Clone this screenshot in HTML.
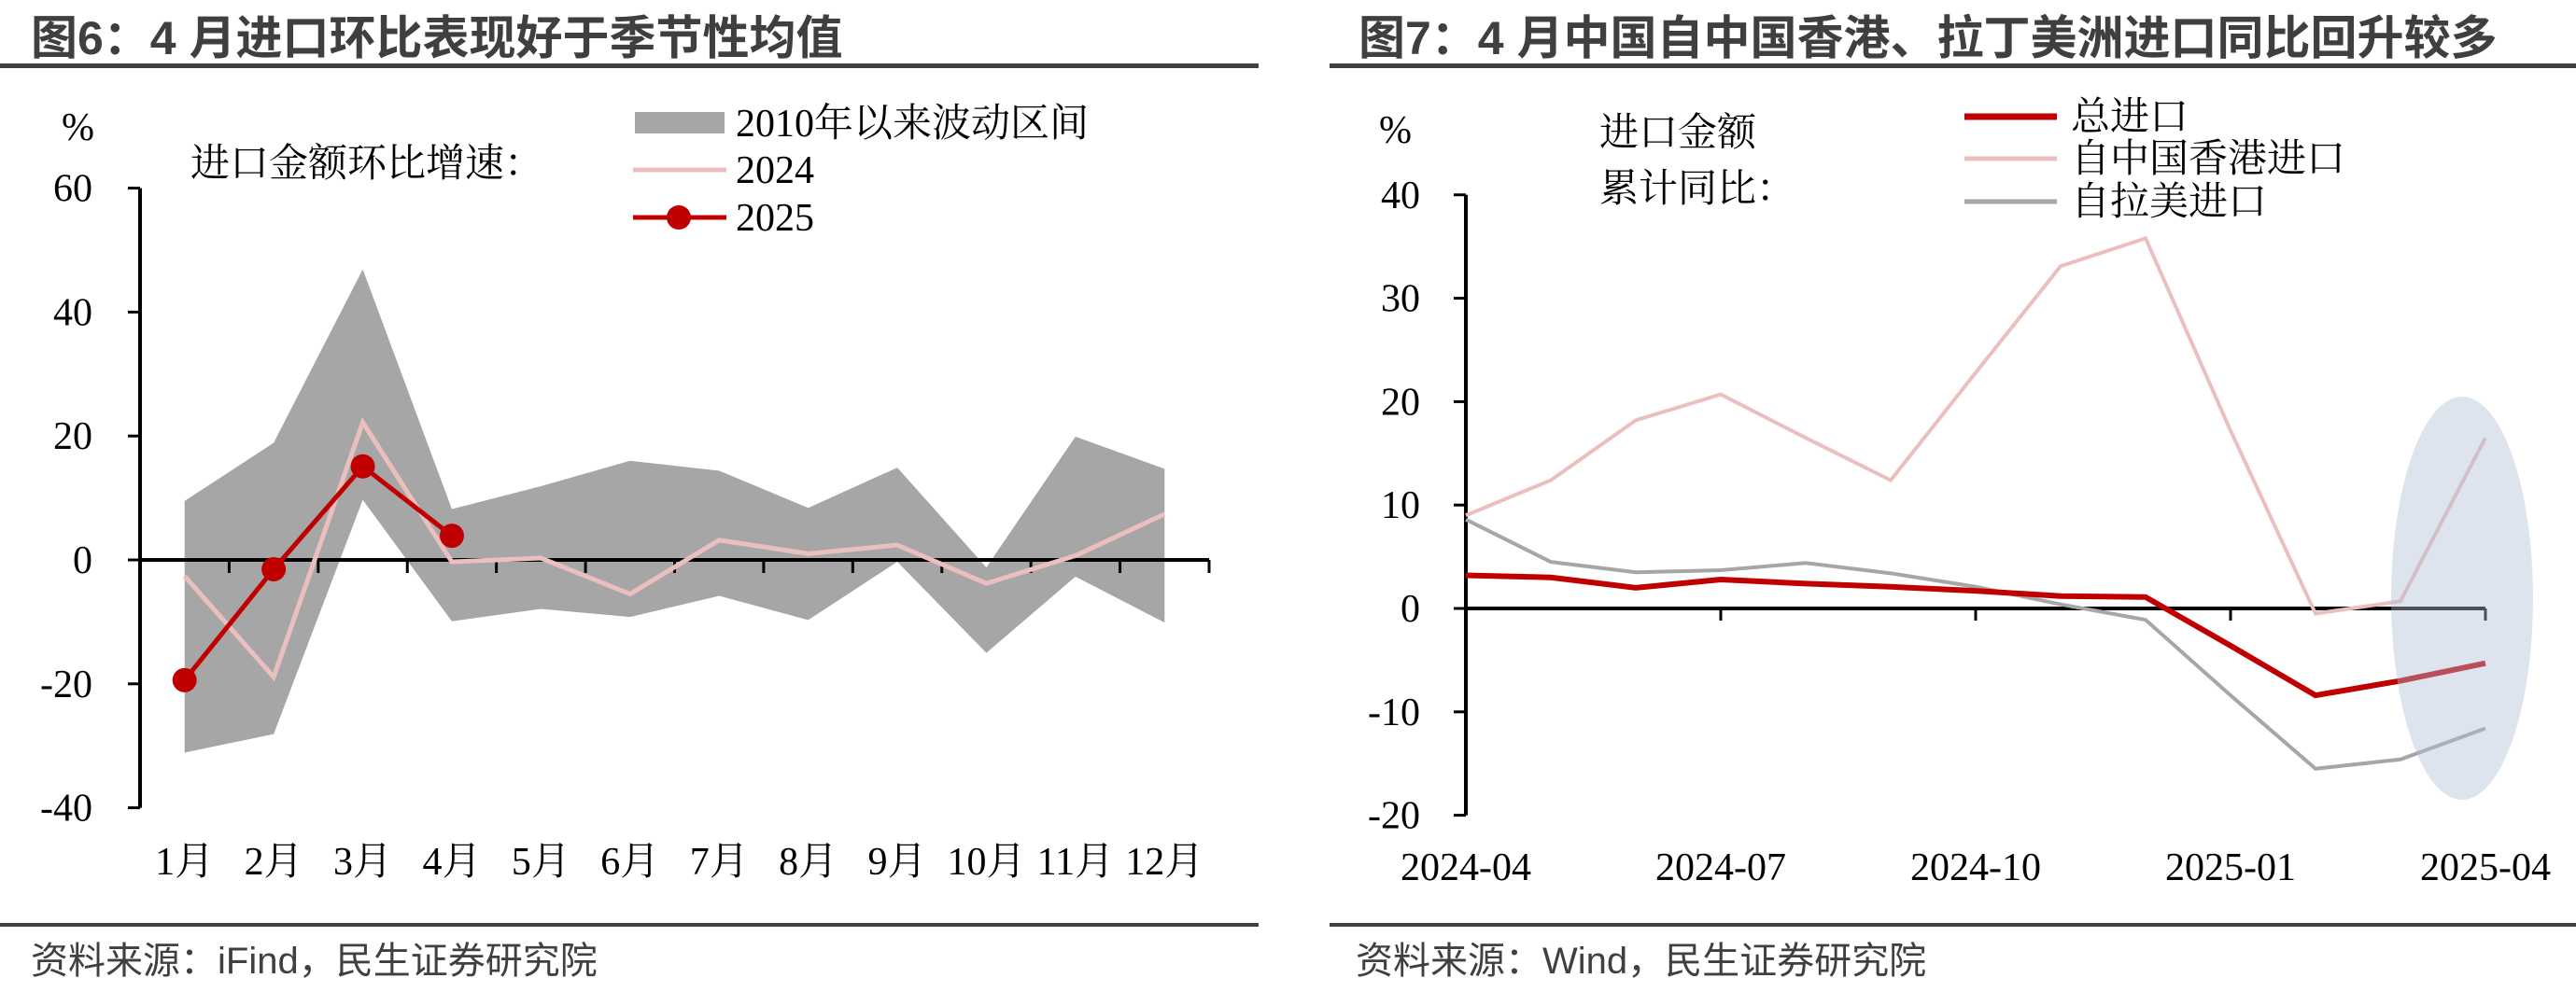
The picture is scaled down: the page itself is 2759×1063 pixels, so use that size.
<!DOCTYPE html>
<html><head><meta charset="utf-8"><style>
html,body{margin:0;padding:0;background:#fff;}
svg{display:block;}
.t{font-family:"Liberation Sans","Noto Sans CJK SC",sans-serif;font-weight:bold;fill:#3f3f3f;font-size:50px;}
.f{font-family:"Liberation Sans","Noto Sans CJK SC",sans-serif;fill:#404040;font-size:40px;}
.n{font-family:"Liberation Serif","Noto Serif CJK SC",serif;fill:#000;font-size:42px;}
</style></head><body>
<svg id="svg" width="2759" height="1063" viewBox="0 0 2759 1063" xmlns="http://www.w3.org/2000/svg">
<text class="t" x="33" y="58">图6：4 月进口环比表现好于季节性均值</text>
<rect x="0" y="68" width="1348" height="5" fill="#404040"/>
<rect x="0" y="989" width="1348" height="4" fill="#404040"/>
<text class="f" x="33" y="1043">资料来源：iFind，民生证券研究院</text>
<text class="t" x="1455" y="58">图7：4 月中国自中国香港、拉丁美洲进口同比回升较多</text>
<rect x="1424" y="68" width="1335" height="5" fill="#404040"/>
<rect x="1424" y="989" width="1335" height="4" fill="#404040"/>
<text class="f" x="1452" y="1043">资料来源：Wind，民生证券研究院</text>
<g id="left"></g>
<g id="right"></g>
</svg>
<script>
// ---- Left chart data ----
const months = ["1月","2月","3月","4月","5月","6月","7月","8月","9月","10月","11月","12月"];
const bandUpper = [9.5,18.9,46.9,8.2,11.9,16.0,14.4,8.4,14.9,-1.2,19.9,14.7];
const bandLower = [-31.1,-28.1,9.7,-9.9,-7.9,-9.2,-5.8,-9.7,-0.3,-15.0,-2.7,-10.1];
const s2024 = [-2.6,-18.9,22.2,-0.3,0.3,-5.5,3.2,1.0,2.4,-3.8,0.7,7.4];
const s2025 = [-19.4,-1.5,15.1,3.9];
const leftTicks = [60,40,20,0,-20,-40];
// ---- Right chart data ----
const rMonths = ["2024-04","2024-05","2024-06","2024-07","2024-08","2024-09","2024-10","2024-11","2024-12","2025-01","2025-02","2025-03","2025-04"];
const rTickLabels = ["2024-04","2024-07","2024-10","2025-01","2025-04"];
const totalImp = [3.2,3.0,2.0,2.8,2.4,2.1,1.7,1.2,1.1,-3.6,-8.4,-7.0,-5.3];
const hkImp = [9.0,12.4,18.2,20.7,16.5,12.4,22.8,33.1,35.8,17.2,-0.5,0.7,16.5];
const latamImp = [8.6,4.5,3.5,3.7,4.4,3.4,2.1,0.4,-1.1,-8.4,-15.5,-14.6,-11.6];
const rightTicks = [40,30,20,10,0,-10,-20];

const NS="http://www.w3.org/2000/svg";
function mk(parent,tag,attrs,text){const e=document.createElementNS(NS,tag);for(const k in attrs)e.setAttribute(k,attrs[k]);if(text!==undefined)e.textContent=text;parent.appendChild(e);return e;}

// Left
(function(){
const g=document.getElementById('left');
const x0=150,x1=1295,bw=(x1-x0)/12;
const ly=v=>600-v*6.64;
const lx=i=>x0+bw*(i+0.5);
let d="M"+bandUpper.map((v,i)=>lx(i)+","+ly(v)).join("L")+"L"+bandLower.map((v,i)=>[i,v]).reverse().map(([i,v])=>lx(i)+","+ly(v)).join("L")+"Z";
let e=mk(g,'path',{d:d,fill:'#a6a6a6'});


e=mk(g,'line',{x1:x0,y1:ly(-40),x2:x0,y2:ly(60),stroke:'#000','stroke-width':4});


leftTicks.forEach(v=>{
  mk(g,'line',{x1:x0-13,x2:x0,y1:ly(v),y2:ly(v),stroke:'#000','stroke-width':3});
  const t=mk(g,'text',{class:'n',x:99,y:ly(v)+14,'text-anchor':'end'},String(v));
  
  
});
e=mk(g,'line',{x1:x0,y1:ly(0),x2:x1,y2:ly(0),stroke:'#000','stroke-width':4});


months.forEach((m,i)=>{
  mk(g,'line',{x1:x0+bw*(i+1),x2:x0+bw*(i+1),y1:ly(0),y2:ly(0)+14,stroke:'#000','stroke-width':3});
  const t=mk(g,'text',{class:'n',x:lx(i),y:937,'text-anchor':'middle'},m);
  
  
});
e=mk(g,'polyline',{points:s2024.map((v,i)=>lx(i)+","+ly(v)).join(" "),fill:'none',stroke:'#ecbfbf','stroke-width':5});


e=mk(g,'polyline',{points:s2025.map((v,i)=>lx(i)+","+ly(v)).join(" "),fill:'none',stroke:'#c00000','stroke-width':5});


s2025.forEach((v,i)=>{
  const c=mk(g,'circle',{cx:lx(i),cy:ly(v),r:13,fill:'#c00000'});
  
  
});
e=mk(g,'text',{class:'n',x:66,y:150},'%');


e=mk(g,'text',{class:'n',x:204,y:189},'进口金额环比增速：');


// legend
e=mk(g,'rect',{x:680,y:120,width:96,height:23,fill:'#a6a6a6'});


e=mk(g,'text',{class:'n',x:788,y:146},'2010年以来波动区间');


mk(g,'line',{x1:678,x2:778,y1:182,y2:182,stroke:'#ecbfbf','stroke-width':5});
e=mk(g,'text',{class:'n',x:788,y:196},'2024');


mk(g,'line',{x1:678,x2:778,y1:233,y2:233,stroke:'#c00000','stroke-width':5});
mk(g,'circle',{cx:727,cy:233,r:13,fill:'#c00000'});
e=mk(g,'text',{class:'n',x:788,y:247},'2025');


})();

// Right
(function(){
const g=document.getElementById('right');
const x0=1570,x1=2662,step=(x1-x0)/12;
const ry=v=>652-v*11.08;
const rx=i=>x0+step*i;
let e=mk(g,'line',{x1:x0,y1:ry(-20),x2:x0,y2:ry(40),stroke:'#000','stroke-width':4});


rightTicks.forEach(v=>{
  mk(g,'line',{x1:x0-13,x2:x0,y1:ry(v),y2:ry(v),stroke:'#000','stroke-width':3});
  const t=mk(g,'text',{class:'n',x:1521,y:ry(v)+14,'text-anchor':'end'},String(v));
  
  
});
e=mk(g,'line',{x1:x0,y1:ry(0),x2:x1,y2:ry(0),stroke:'#000','stroke-width':4});


rTickLabels.forEach(lab=>{
  const i=rMonths.indexOf(lab);
  if(i>0) mk(g,'line',{x1:rx(i),x2:rx(i),y1:ry(0),y2:ry(0)+13,stroke:'#000','stroke-width':3});
  const t=mk(g,'text',{class:'n',x:rx(i),y:943,'text-anchor':'middle'},lab);
  
  
});
e=mk(g,'polyline',{points:hkImp.map((v,i)=>rx(i)+","+ry(v)).join(" "),fill:'none',stroke:'#ecbfbf','stroke-width':4});


e=mk(g,'polyline',{points:latamImp.map((v,i)=>rx(i)+","+ry(v)).join(" "),fill:'none',stroke:'#a6a6a6','stroke-width':4});


e=mk(g,'polyline',{points:totalImp.map((v,i)=>rx(i)+","+ry(v)).join(" "),fill:'none',stroke:'#c00000','stroke-width':6});


e=mk(g,'ellipse',{cx:2637,cy:641,rx:76,ry:216,fill:'rgba(176,190,212,0.42)'});


e=mk(g,'text',{class:'n',x:1477,y:153},'%');


e=mk(g,'text',{class:'n',x:1713,y:156},'进口金额');


e=mk(g,'text',{class:'n',x:1713,y:216},'累计同比：');


mk(g,'line',{x1:2104,x2:2203,y1:125,y2:125,stroke:'#c00000','stroke-width':7});
e=mk(g,'text',{class:'n',x:2218,y:139},'总进口');


mk(g,'line',{x1:2104,x2:2203,y1:170,y2:170,stroke:'#ecbfbf','stroke-width':5});
e=mk(g,'text',{class:'n',x:2218,y:184},'自中国香港进口');


mk(g,'line',{x1:2104,x2:2203,y1:216,y2:216,stroke:'#a6a6a6','stroke-width':5});
e=mk(g,'text',{class:'n',x:2218,y:230},'自拉美进口');


})();
</script>
</body></html>
